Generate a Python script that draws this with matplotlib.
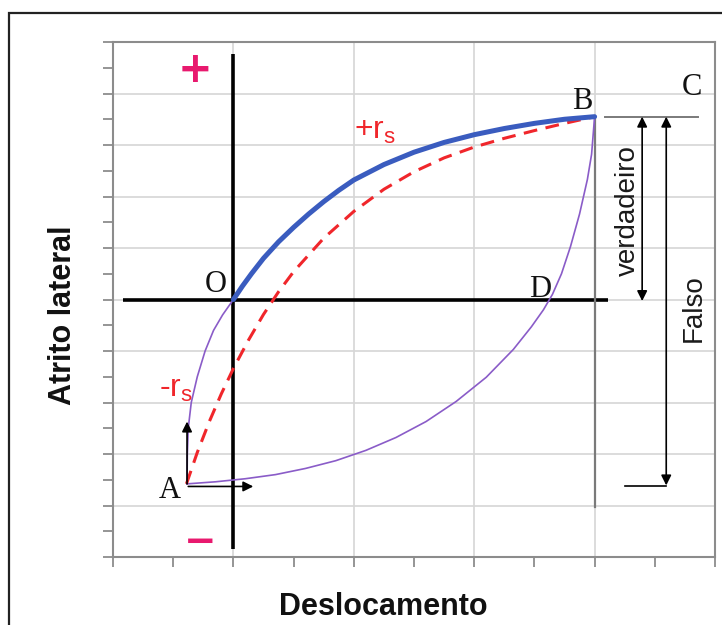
import numpy as np
import matplotlib
matplotlib.use("Agg")
import matplotlib.pyplot as plt
from matplotlib.ticker import MultipleLocator
from matplotlib.patches import Rectangle

plt.rcParams["font.family"] = ["Liberation Sans", "DejaVu Sans"]

# ── data (origin at O) ────────────────────────────────────────────────────────
# loading curve O -> B (thick blue)
blue_x = [0, 0.15, 0.3, 0.5, 0.75, 1.0, 1.25, 1.5, 1.75, 2.0, 2.5, 3.0, 3.5, 4.0, 4.5, 5.0, 5.5, 6.0]
blue_y = [0, 0.26, 0.50, 0.80, 1.12, 1.40, 1.66, 1.90, 2.12, 2.32, 2.62, 2.86, 3.05, 3.20, 3.32, 3.42, 3.50, 3.55]

# dashed red curve A -> B
red_x = [-0.78, -0.6, -0.4, -0.2, 0.0, 0.25, 0.5, 0.75, 1.0, 1.5, 2.0, 2.5, 3.0, 3.5, 4.0, 4.5, 5.0, 5.5, 6.0]
red_y = [-3.58, -2.97, -2.37, -1.83, -1.34, -0.79, -0.29, 0.15, 0.54, 1.19, 1.71, 2.14, 2.48, 2.75, 2.96, 3.13, 3.28, 3.42, 3.55]

# thin purple curve A -> O
pa_x = [-0.77, -0.765, -0.75, -0.70, -0.60, -0.47, -0.33, -0.18, 0.0]
pa_y = [-3.58, -3.0, -2.5, -2.0, -1.5, -1.0, -0.6, -0.3, 0.0]

# thin purple curve A -> D -> B
pb_x = [-0.77, -0.3, 0.2, 0.7, 1.2, 1.7, 2.2, 2.7, 3.2, 3.7, 4.2, 4.65,
        4.95, 5.15, 5.30, 5.45, 5.60, 5.75, 5.88, 5.95, 6.0]
pb_y = [-3.58, -3.54, -3.48, -3.40, -3.28, -3.13, -2.93, -2.68, -2.37, -1.98, -1.51, -0.97,
        -0.53, -0.20, 0.10, 0.50, 1.03, 1.66, 2.33, 2.82, 3.55]

# points
pt_A = (-0.77, -3.58)
pt_B = (6.0, 3.55)
x_true = 6.79     # "verdadeiro" arrow
x_false = 7.19    # "Falso" arrow
y_false_end = -3.61

C_BLUE = "#3a5cbf"
C_RED = "#f0262b"
C_PURPLE = "#8a5cc8"
C_PINK = "#e8196e"

# ── figure ────────────────────────────────────────────────────────────────────
fig = plt.figure(figsize=(7.22, 6.25), dpi=100)
ax = fig.add_axes([113/722, 1 - 557/625, (715 - 113)/722, (557 - 42)/625])

# outer frame (cropped on the right and bottom)
fig.patches.append(Rectangle((9/722, -0.05), 1.0, 1 - 13/625 + 0.05,
                             transform=fig.transFigure, fill=False,
                             edgecolor="#222222", lw=1.6))

ax.set_xlim(-2, 8)
ax.set_ylim(-5, 5)
ax.xaxis.set_major_locator(MultipleLocator(2))
ax.xaxis.set_minor_locator(MultipleLocator(1))
ax.yaxis.set_major_locator(MultipleLocator(1))
ax.yaxis.set_minor_locator(MultipleLocator(0.5))
ax.grid(which="major", color="#d6d6d6", lw=1.2)
ax.set_axisbelow(True)
ax.tick_params(which="both", direction="out", length=7, width=1.3, color="#8c8c8c",
               labelbottom=False, labelleft=False)
for sp in ax.spines.values():
    sp.set_color("#8c8c8c"); sp.set_linewidth(1.5)

# black reference axes
ax.plot([-1.84, 6.23], [0, 0], color="black", lw=2.6, solid_capstyle="butt")
ax.plot([0, 0], [4.76, -4.85], color="black", lw=2.6, solid_capstyle="butt")

# grey lines at B / C
ax.plot([pt_B[0], pt_B[0]], [pt_B[1], -4.02], color="#7a7a7a", lw=1.6)
ax.plot([6.18, 7.71], [pt_B[1], pt_B[1]], color="#7a7a7a", lw=1.4)

# curves
ax.plot(pa_x, pa_y, color=C_PURPLE, lw=1.2)
ax.plot(pb_x, pb_y, color=C_PURPLE, lw=1.2)
ax.plot(red_x, red_y, color=C_RED, lw=2.2, dashes=(4.5, 2.8))
ax.plot(blue_x, blue_y, color=C_BLUE, lw=3.6, solid_capstyle="round", solid_joinstyle="round")

# arrows
arw = dict(color="black", lw=1.2, mutation_scale=15, shrinkA=0, shrinkB=0)
ax.annotate("", xy=(x_true, -0.03), xytext=(x_true, pt_B[1]), arrowprops=dict(arrowstyle="<|-|>", **arw))
ax.annotate("", xy=(x_false, y_false_end), xytext=(x_false, pt_B[1]), arrowprops=dict(arrowstyle="<|-|>", **arw))
ax.plot([6.51, x_false], [-3.63, -3.63], color="black", lw=1.2)
ax.annotate("", xy=(pt_A[0], -2.37), xytext=pt_A, arrowprops=dict(arrowstyle="-|>", **arw))
ax.annotate("", xy=(0.33, -3.63), xytext=(pt_A[0] + 0.02, -3.63), arrowprops=dict(arrowstyle="-|>", **arw))

# letters
serif = dict(family="Liberation Serif", fontsize=22, ha="center", va="center", color="#111111")
ax.text(-0.30, 0.29, "O", **serif)
ax.text(5.80, 3.84, "B", **serif)
ax.text(7.62, 4.12, "C", **serif)
ax.text(5.10, 0.19, "D", **serif)
ax.text(-1.05, -3.71, "A", **serif)

ax.text(-0.63, 4.45, "+", family="DejaVu Sans", fontweight="bold", fontsize=30,
        color=C_PINK, ha="center", va="center")
ax.text(-0.56, -4.70, "\u2212", family="DejaVu Sans", fontweight="bold", fontsize=28,
        color=C_PINK, ha="center", va="center")

ax.text(2.36, 3.28, r"+r$_\mathregular{s}$", fontsize=23, color=C_RED, ha="center", va="center")
ax.text(-0.96, -1.73, r"-r$_\mathregular{s}$", fontsize=23, color=C_RED, ha="center", va="center")

ax.text(6.55, 1.73, "verdadeiro", rotation=90, fontsize=20, color="#1a1a1a",
        ha="center", va="center")
ax.text(7.64, -0.17, "Falso", rotation=90, fontsize=20, color="#1a1a1a",
        ha="center", va="center")

fig.text(63/722, 1 - 315/625, "Atrito lateral", rotation=90, fontsize=22,
         fontweight="bold", ha="center", va="center", color="#111111")
fig.text(383/722, 1 - 607/625, "Deslocamento", fontsize=22,
         fontweight="bold", ha="center", va="center", color="#111111")

fig.savefig("out.png", dpi=100)
